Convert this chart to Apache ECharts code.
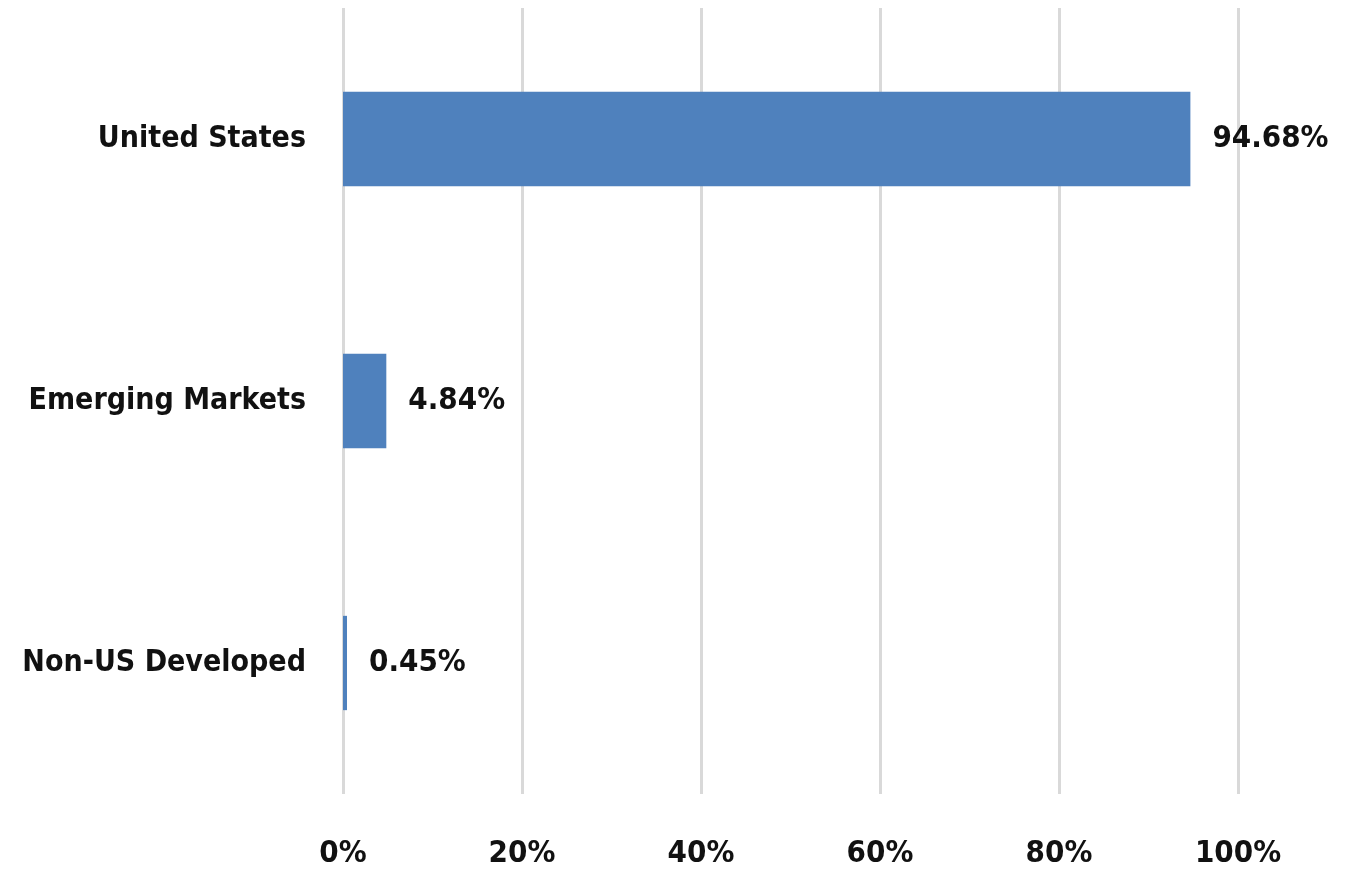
<!DOCTYPE html>
<html>
<head>
<meta charset="utf-8">
<script src="https://cdn.jsdelivr.net/npm/echarts@6/dist/echarts.min.js"></script>
<style>
  html, body { margin: 0; padding: 0; background: #ffffff; }
  #chart { width: 1345px; height: 872px; }
</style>
</head>
<body>
<div id="chart"></div>
<script>
// Regional allocation, listed bottom to top as drawn on the category axis
const regions = ['Non-US Developed', 'Emerging Markets', 'United States'];
const weights = [0.45, 4.84, 94.68];
const tickLabels = ['0%', '20%', '40%', '60%', '80%', '100%'];

const FONT = '"DejaVu Sans Condensed", "Liberation Sans", sans-serif';

const chart = echarts.init(document.getElementById('chart'));
chart.setOption({
  animation: false,
  backgroundColor: '#ffffff',
  grid: { left: 343, right: 107, top: 8, bottom: 78, containLabel: false, outerBoundsMode: 'none' },
  xAxis: {
    type: 'value',
    min: 0,
    max: 100,
    interval: 20,
    axisLine: { show: false },
    axisTick: { show: false },
    splitLine: { show: true, lineStyle: { color: '#d9d9d9', width: 3 } },
    axisLabel: {
      margin: 44,
      fontFamily: FONT,
      fontWeight: 'bold',
      fontSize: 31,
      color: '#111111',
      formatter: function (v) { return tickLabels[Math.round(v / 20)]; }
    }
  },
  yAxis: {
    type: 'category',
    data: regions,
    axisLine: { show: false },
    axisTick: { show: false },
    axisLabel: {
      margin: 37,
      fontFamily: FONT,
      fontWeight: 'bold',
      fontSize: 30,
      color: '#111111',
      padding: [6, 0, 0, 0]
    }
  },
  series: [{
    type: 'bar',
    data: weights,
    barWidth: '36%',
    itemStyle: { color: '#4f81bd' },
    label: {
      show: true,
      position: 'right',
      distance: 22,
      fontFamily: FONT,
      fontWeight: 'bold',
      fontSize: 31,
      color: '#111111',
      padding: [6, 0, 0, 0],
      formatter: function (p) { return p.value.toFixed(2) + '%'; }
    }
  }]
});
</script>
</body>
</html>
